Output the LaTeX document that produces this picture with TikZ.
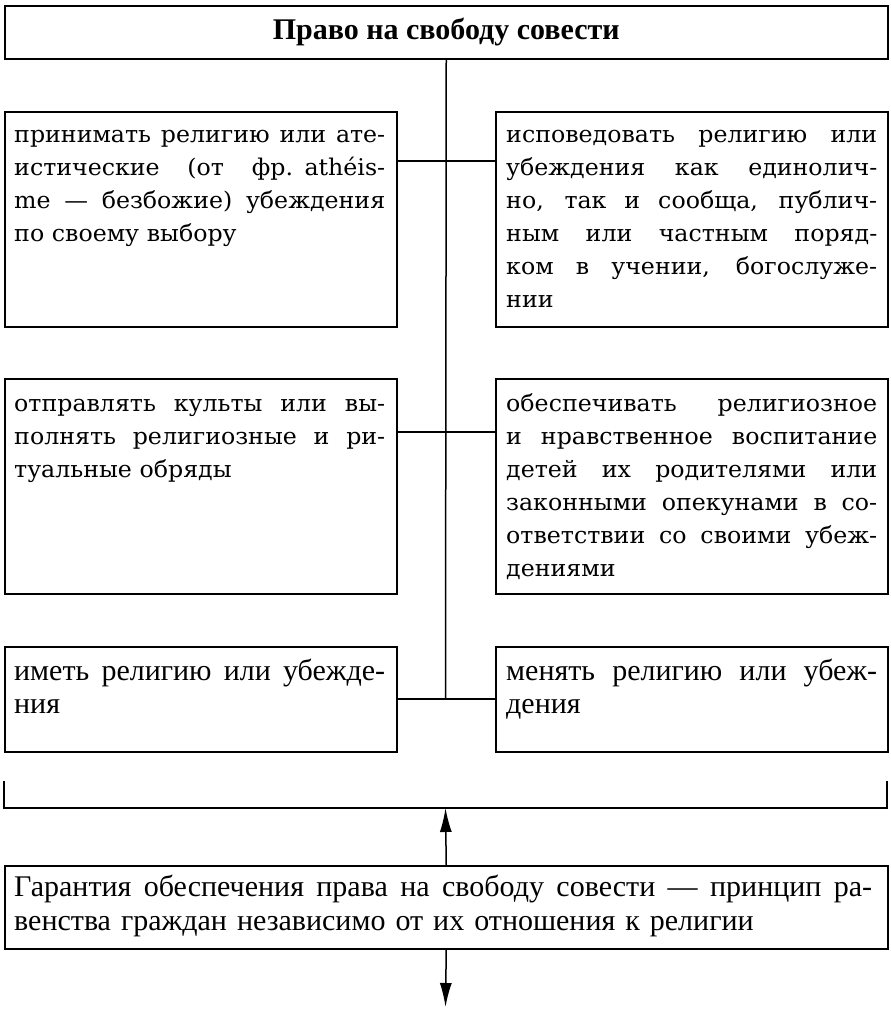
\documentclass[tikz,border=0pt]{standalone}
\usepackage{fontspec}
\setmainfont[FakeStretch=1.03]{DejaVu Serif}
\newfontfamily\timesf{Liberation Serif}
\usetikzlibrary{arrows.meta}
\newcommand{\jline}[1]{\hbox to \hsize{\spaceskip=0.3em plus 1fil\relax\strut#1}}
\newcommand{\lline}[1]{\hbox{\strut#1}}
\tikzset{
  box/.style={draw, line width=1.5pt, minimum width=392pt, inner sep=0pt, anchor=north west},
  ln/.style={line width=1.5pt},
  arr/.style={ln, -{Latex[length=24pt,width=12pt]}},
  schooltxt/.style={inner sep=0pt, anchor=north west, text width=371pt,
    font=\fontsize{23}{33}\selectfont},
  timestxt/.style={inner sep=0pt, anchor=north west, text width=371pt,
    font=\timesf\fontsize{30}{33}\selectfont},
}
\begin{document}
\begin{tikzpicture}[x=1pt,y=-1pt]
\useasboundingbox (0,0) rectangle (891,1010);
% boxes
\node[box, minimum width=883pt, minimum height=53pt] (top) at (4,5) {};
\node[font=\timesf\bfseries\fontsize{30}{32}\selectfont, inner sep=0pt] (title) at (top.center) {Право на свободу совести};
\node[box, minimum height=215pt] (l1) at (4,111) {};
\node[box, minimum height=215pt] (r1) at (495,111) {};
\node[box, minimum height=215pt] (l2) at (4,378) {};
\node[box, minimum height=215pt] (r2) at (495,378) {};
\node[box, minimum height=105pt] (l3) at (4,646) {};
\node[box, minimum height=105pt] (r3) at (495,646) {};
\node[box, minimum width=883pt, minimum height=83pt] (g) at (4,865) {};
% texts
\node[schooltxt] (tl1) at ([xshift=10pt,yshift=-8pt]l1.north west) {%
\jline{принимать религию или ате-}
\jline{истические (от фр. athéis-}
\jline{me — безбожие) убеждения}
\lline{по своему выбору}};
\node[schooltxt] (tr1) at ([xshift=11pt,yshift=-8pt]r1.north west) {%
\jline{исповедовать религию или}
\jline{убеждения как единолич-}
\jline{но, так и сообща, публич-}
\jline{ным или частным поряд-}
\jline{ком в учении, богослуже-}
\lline{нии}};
\node[schooltxt] (tl2) at ([xshift=10pt,yshift=-10pt]l2.north west) {%
\jline{отправлять культы или вы-}
\jline{полнять религиозные и ри-}
\lline{туальные обряды}};
\node[schooltxt] (tr2) at ([xshift=11pt,yshift=-10pt]r2.north west) {%
\jline{обеспечивать религиозное}
\jline{и нравственное воспитание}
\jline{детей их родителями или}
\jline{законными опекунами в со-}
\jline{ответствии со своими убеж-}
\lline{дениями}};
\node[timestxt] (tl3) at ([xshift=10pt,yshift=-11pt]l3.north west) {%
\jline{иметь религию или убежде-}
\lline{ния}};
\node[timestxt] (tr3) at ([xshift=11pt,yshift=-11pt]r3.north west) {%
\jline{менять религию или убеж-}
\lline{дения}};
\node[timestxt, text width=858pt, font=\timesf\fontsize{30}{34}\selectfont] (tg) at ([xshift=10pt,yshift=-7pt]g.north west) {%
\jline{Гарантия обеспечения права на свободу совести — принцип ра-}
\lline{венства граждан независимо от их отношения к религии}};
% connectors
\coordinate (j1) at (445.5,161);
\coordinate (j2) at (445.5,432);
\coordinate (j3) at (445.5,699);
\draw[ln] (top.south) -- (j3);
\draw[ln] (l1.east |- j1) -- (r1.west |- j1);
\draw[ln] (l2.east |- j2) -- (r2.west |- j2);
\draw[ln] (l3.east |- j3) -- (r3.west |- j3);
% bracket
\coordinate (bl) at (4,781);
\coordinate (br) at (887,781);
\coordinate (bm) at (445.5,808);
\draw[ln] (bl) -- (bl |- bm) -- (br |- bm) -- (br);
\draw[arr] (g.north) -- (bm);
\coordinate (endd) at (445.5,1007);
\draw[arr] (g.south) -- (endd);
\end{tikzpicture}
\end{document}
